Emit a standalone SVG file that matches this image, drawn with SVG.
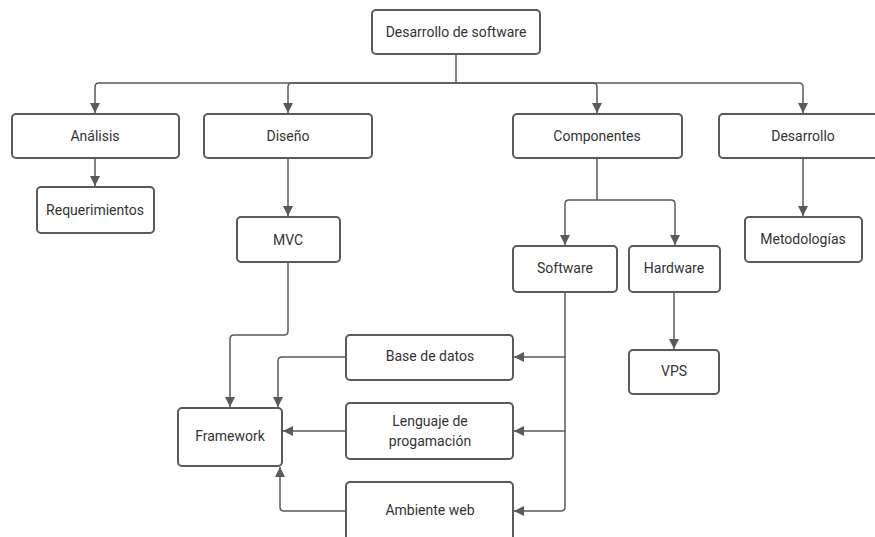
<svg xmlns="http://www.w3.org/2000/svg" width="875" height="537" viewBox="0 0 875 537">
  <style>
    .box { fill: #ffffff; stroke: #5a5a5a; stroke-width: 2; }
    .lbl { font-family: Roboto, "Liberation Sans", sans-serif; font-size: 14px; fill: #333333; text-anchor: middle; dominant-baseline: central; }
    .wire { fill: none; stroke: #5a5a5a; stroke-width: 1.5; stroke-linejoin: round; }
  </style>
  <defs>
    <marker id="arrow" viewBox="0 0 10 10" refX="10" refY="5" markerWidth="10" markerHeight="10" markerUnits="userSpaceOnUse" orient="auto">
      <path d="M0,0 L10,5 L0,10 z" fill="#5a5a5a"/>
    </marker>
  </defs>
  <rect width="875" height="537" fill="#ffffff"/>

  <g id="connectors">
    <!-- root to first level -->
    <path class="wire" d="M456,54 V83"/>
    <path class="wire" d="M456,83 H99 Q95,83 95,87 V113" marker-end="url(#arrow)"/>
    <path class="wire" d="M456,83 H292 Q288,83 288,87 V113" marker-end="url(#arrow)"/>
    <path class="wire" d="M456,83 H593 Q597,83 597,87 V113" marker-end="url(#arrow)"/>
    <path class="wire" d="M456,83 H799 Q803,83 803,87 V113" marker-end="url(#arrow)"/>
    <!-- second level -->
    <path class="wire" d="M95,158 V186" marker-end="url(#arrow)"/>
    <path class="wire" d="M288,158 V216" marker-end="url(#arrow)"/>
    <path class="wire" d="M803,158 V216" marker-end="url(#arrow)"/>
    <path class="wire" d="M597,158 V200"/>
    <path class="wire" d="M597,200 H569 Q565,200 565,204 V245" marker-end="url(#arrow)"/>
    <path class="wire" d="M597,200 H671 Q675,200 675,204 V245" marker-end="url(#arrow)"/>
    <path class="wire" d="M674,292 V349" marker-end="url(#arrow)"/>
    <!-- software trunk -->
    <path class="wire" d="M565,292 V357 H514" marker-end="url(#arrow)"/>
    <path class="wire" d="M565,357 V431 H514" marker-end="url(#arrow)"/>
    <path class="wire" d="M565,431 V507 Q565,511 561,511 H514" marker-end="url(#arrow)"/>
    <!-- into Framework -->
    <path class="wire" d="M288,262 V331 Q288,335 284,335 H234 Q230,335 230,339 V407" marker-end="url(#arrow)"/>
    <path class="wire" d="M346,357 H282 Q278,357 278,361 V407" marker-end="url(#arrow)"/>
    <path class="wire" d="M346,431 H283" marker-end="url(#arrow)"/>
    <path class="wire" d="M346,511 H284 Q280,511 280,507 V467" marker-end="url(#arrow)"/>
  </g>

  <g id="n-root"><rect class="box" x="372" y="10" width="168" height="44" rx="4"/><text class="lbl" x="456" y="32">Desarrollo de software</text></g>
  <g id="n-analisis"><rect class="box" x="12" y="114" width="167" height="44" rx="4"/><text class="lbl" x="95" y="136">Análisis</text></g>
  <g id="n-diseno"><rect class="box" x="204" y="114" width="168" height="44" rx="4"/><text class="lbl" x="288" y="136">Diseño</text></g>
  <g id="n-componentes"><rect class="box" x="513" y="114" width="169" height="44" rx="4"/><text class="lbl" x="597" y="136">Componentes</text></g>
  <g id="n-desarrollo"><rect class="box" x="719" y="114" width="168" height="44" rx="4"/><text class="lbl" x="803" y="136">Desarrollo</text></g>
  <g id="n-requerimientos"><rect class="box" x="37" y="187" width="117" height="46" rx="4"/><text class="lbl" x="95" y="210">Requerimientos</text></g>
  <g id="n-mvc"><rect class="box" x="237" y="217" width="103" height="45" rx="4"/><text class="lbl" x="288" y="240">MVC</text></g>
  <g id="n-metodologias"><rect class="box" x="745" y="217" width="117" height="45" rx="4"/><text class="lbl" x="803" y="239">Metodologías</text></g>
  <g id="n-software"><rect class="box" x="513" y="246" width="104" height="46" rx="4"/><text class="lbl" x="565" y="268">Software</text></g>
  <g id="n-hardware"><rect class="box" x="629" y="246" width="91" height="46" rx="4"/><text class="lbl" x="674" y="268">Hardware</text></g>
  <g id="n-vps"><rect class="box" x="629" y="350" width="90" height="44" rx="4"/><text class="lbl" x="674" y="371">VPS</text></g>
  <g id="n-basedatos"><rect class="box" x="346" y="335" width="167" height="45" rx="4"/><text class="lbl" x="430" y="356">Base de datos</text></g>
  <g id="n-lenguaje"><rect class="box" x="346" y="403" width="167" height="56" rx="4"/><text class="lbl" x="430" y="421">Lenguaje de</text><text class="lbl" x="430" y="441">progamación</text></g>
  <g id="n-ambiente"><rect class="box" x="346" y="482" width="167" height="70" rx="4"/><text class="lbl" x="430" y="510">Ambiente web</text></g>
  <g id="n-framework"><rect class="box" x="178" y="408" width="104" height="58" rx="4"/><text class="lbl" x="230" y="436">Framework</text></g>
</svg>
